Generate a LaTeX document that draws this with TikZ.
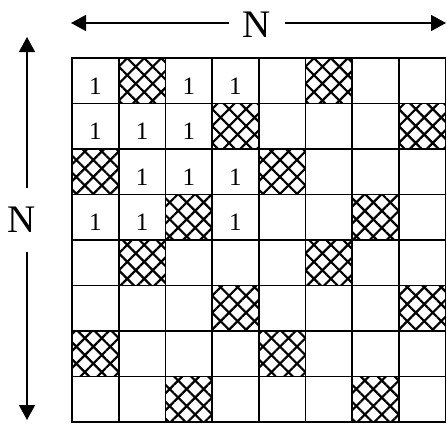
\documentclass[tikz,border=0pt]{standalone}
\usepackage{fontspec}
\setmainfont{Liberation Serif}
\usepackage{tikz}
\usetikzlibrary{arrows.meta,patterns.meta}

\begin{document}
\begin{tikzpicture}[x=1pt,y=-1pt,
cell/.style={draw,line width=1.7pt,minimum width=46.7pt,minimum height=45.5pt,inner sep=0pt},
hatched/.style={cell,pattern={Hatch[angle=45,distance=12pt,line width=2.2pt]}},
one/.style={font=\fontsize{25}{25}\selectfont,inner sep=0pt},
big/.style={font=\fontsize{39}{39}\selectfont},
arr/.style={-{Triangle[length=15pt,width=16pt]},line width=1.5pt}]
\useasboundingbox (0,0) rectangle (447,423);
% grid of cells
\foreach \r in {0,...,7}
  \foreach \c in {0,...,7}
    \node[cell] (c\r\c) at ({72+(\c+0.5)*46.7},{58+(\r+0.5)*45.5}) {};
\foreach \r/\c in {0/1,0/5,1/3,1/7,2/0,2/4,3/2,3/6,4/1,4/5,5/3,5/7,6/0,6/4,7/2,7/6}
  \node[hatched] (h\r\c) at (c\r\c) {};
\foreach \r/\c in {0/0,0/2,0/3,1/0,1/1,1/2,2/1,2/2,2/3,3/0,3/1,3/3}
  \node[one] (o\r\c) at ([yshift=-5pt]c\r\c) {1};
% dimension arrows
\node[big,inner xsep=14pt,inner ysep=0pt] (ntop) at (257,25) {N};
\coordinate (hl) at (71,23);
\coordinate (hr) at (446,23);
\draw[arr] (ntop.west |- hl) -- (hl);
\draw[arr] (ntop.east |- hr) -- (hr);
\node[big,inner xsep=0pt,inner ysep=19pt] (nleft) at (22,220) {N};
\coordinate (vt) at (27,37);
\coordinate (vb) at (27,420);
\draw[arr] (nleft.north -| vt) -- (vt);
\draw[arr] (nleft.south -| vb) -- (vb);
\end{tikzpicture}
\end{document}
